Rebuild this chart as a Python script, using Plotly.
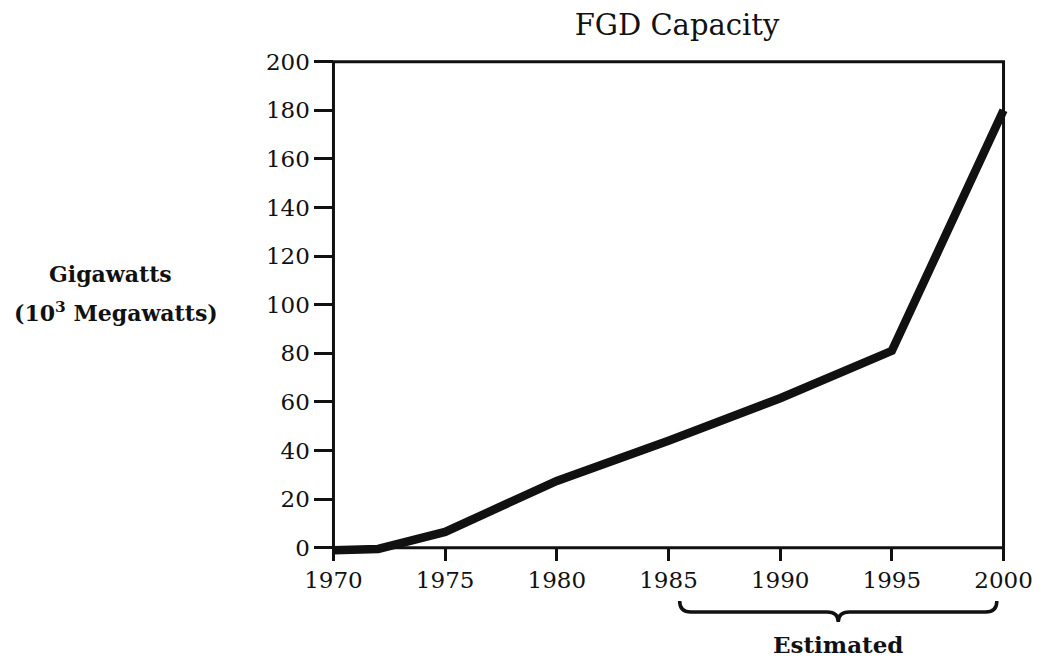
import plotly.graph_objects as go

# ---- data ----
years = [1970, 1972, 1975, 1980, 1985, 1990, 1995, 2000]
capacity_gw = [-1, -0.5, 6.5, 27.5, 44, 61.5, 81, 180]
x_ticks = [1970, 1975, 1980, 1985, 1990, 1995, 2000]
y_ticks = [0, 20, 40, 60, 80, 100, 120, 140, 160, 180, 200]
title_text = "FGD Capacity"
ylabel_line1 = "<b>Gigawatts</b>"
ylabel_line2 = "<b>(10<sup>3</sup> Megawatts)</b>"
estimated_text = "<b>Estimated</b>"
estimated_span = [1985.5, 1999.7]

# ---- layout geometry ----
W, H = 1040, 658
L, R, T, B = 329, 32, 58, 103
xr = [1969.8, 2000.2]
yr = [-3, 201.5]
plot_w = W - L - R
plot_h = H - T - B

def px_x(px):
    return (px - L) / plot_w

def px_y(py):
    return (H - B - py) / plot_h

FONT = "DejaVu Serif"
INK = "#111111"

fig = go.Figure()
fig.add_trace(go.Scatter(
    x=years, y=capacity_gw, mode="lines",
    line=dict(color=INK, width=8.5),
    hoverinfo="skip", showlegend=False,
))

# frame around the data area (0..200, 1970..2000)
fig.add_shape(type="rect", xref="x", yref="y",
              x0=x_ticks[0], x1=x_ticks[-1], y0=y_ticks[0], y1=y_ticks[-1],
              line=dict(color=INK, width=3), layer="above")

# brace below the x axis marking the estimated period
bx0, bx1 = estimated_span
tip = (bx0 + bx1) / 2
d = 0.5
ytop, ymid, ytip = px_y(601), px_y(612), px_y(622)
path = (f"M {bx0},{ytop} Q {bx0},{ymid} {bx0+d},{ymid} L {tip-d},{ymid} "
        f"Q {tip},{ymid} {tip},{ytip} Q {tip},{ymid} {tip+d},{ymid} "
        f"L {bx1-d},{ymid} Q {bx1},{ymid} {bx1},{ytop}")
fig.add_shape(type="path", xref="x", yref="paper", path=path,
              line=dict(color=INK, width=3.5))

fig.add_annotation(x=tip, xref="x", y=px_y(644), yref="paper",
                   text=estimated_text, showarrow=False,
                   font=dict(family=FONT, size=23, color=INK),
                   xanchor="center", yanchor="middle")

fig.add_annotation(x=px_x(110), xref="paper", y=px_y(274), yref="paper",
                   text=ylabel_line1, showarrow=False,
                   font=dict(family=FONT, size=22, color=INK),
                   xanchor="center", yanchor="middle")
fig.add_annotation(x=px_x(116), xref="paper", y=px_y(312), yref="paper",
                   text=ylabel_line2, showarrow=False,
                   font=dict(family=FONT, size=22, color=INK),
                   xanchor="center", yanchor="middle")

fig.update_layout(
    width=W, height=H,
    margin=dict(l=L, r=R, t=T, b=B, autoexpand=False),
    paper_bgcolor="white", plot_bgcolor="white",
    title=dict(text=title_text, x=677 / W, y=1 - 25 / H,
               xanchor="center", yanchor="middle",
               font=dict(family=FONT, size=29, color=INK)),
    xaxis=dict(range=xr, tickvals=x_ticks, ticktext=[str(v) for v in x_ticks],
               showgrid=False, zeroline=False, showline=False, automargin=False,
               ticks="outside", ticklen=12, tickwidth=2.5, tickcolor=INK,
               anchor="free", position=(0 - yr[0]) / (yr[1] - yr[0]),
               tickfont=dict(family=FONT, size=23, color=INK)),
    yaxis=dict(range=yr, tickvals=y_ticks, ticktext=[str(v) for v in y_ticks],
               showgrid=False, zeroline=False, showline=False, automargin=False,
               ticks="outside", ticklen=19, tickwidth=2.5, tickcolor=INK,
               anchor="free", position=(x_ticks[0] - xr[0]) / (xr[1] - xr[0]),
               tickfont=dict(family=FONT, size=23, color=INK)),
)

fig.write_html("out.html", config={"displayModeBar": False},
               post_script="document.body.style.margin='0';document.body.style.padding='0';")
